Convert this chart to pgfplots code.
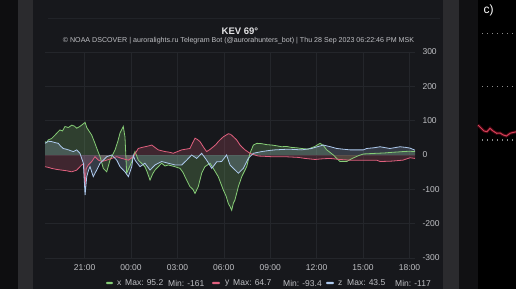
\documentclass[border=0pt]{standalone}
\usepackage{pgfplots}
\pgfplotsset{compat=1.18}
\usepackage{pgfplotstable}
\usepackage{fontspec}
\setmainfont{Liberation Sans}
\definecolor{outerbg}{HTML}{0E0E10}
\definecolor{greybar}{HTML}{2B2B2E}
\definecolor{panelbg}{HTML}{17181C}
\definecolor{darkstrip}{HTML}{111113}
\definecolor{gridc}{HTML}{24262B}
\definecolor{ticktext}{HTML}{BFC0C4}
\definecolor{titletext}{HTML}{E2E2E4}
\definecolor{cx}{HTML}{86CC76}
\definecolor{cy}{HTML}{E0607E}
\definecolor{cz}{HTML}{AECAEE}
\definecolor{redline}{HTML}{C8102E}

\pgfplotstableread{
h v
-5.56 39
-5.45 36
-5.35 44
-5.13 48
-4.91 58
-4.75 66
-4.59 73
-4.43 70
-4.27 83
-4.05 80
-3.83 87
-3.65 84
-3.51 78
-3.35 82
-3.19 87
-3.08 91
-2.97 95
-2.86 80
-2.76 73
-2.54 58
-2.33 34
-2.15 12
-2.00 -5
-1.79 -39
-1.57 -49
-1.45 -30
-1.36 -15
-1.03 15
-0.85 40
-0.71 64
-0.50 83
-0.39 53
-0.28 -53
-0.10 -35
0.05 -20
0.26 10
0.47 -15
0.70 -25
0.90 -34
1.05 -50
1.23 -73
1.40 -55
1.55 -44
1.98 -24
2.20 -32
2.41 -29
2.84 -34
3.17 -39
3.35 -50
3.49 -63
3.81 -92
4.00 -100
4.14 -112
4.35 -92
4.57 -53
4.78 -34
5.11 -24
5.32 -39
5.64 -63
5.97 -102
6.15 -120
6.29 -141
6.40 -150
6.51 -161
6.62 -140
6.72 -131
6.94 -92
7.16 -63
7.48 -34
7.69 5
7.91 29
8.13 34
8.45 33
8.80 30
9.10 29
9.40 27
9.74 24
10.05 25
10.39 22
10.70 21
11.03 19
11.44 17
11.89 25
12.22 34
12.43 28
12.65 15
12.86 8
13.08 0
13.30 -10
13.51 -19
13.94 -19
14.35 -9
14.70 -2
15.02 3
15.45 4
15.88 5
16.40 6
16.94 8
17.30 9
17.58 10
18.00 11
18.36 10
}\xdata

\pgfplotstableread{
h v
-5.56 -34
-5.35 -36
-5.13 -39
-4.80 -42
-4.48 -44
-4.15 -46
-3.83 -49
-3.51 -44
-3.19 -29
-3.05 -26
-2.97 -93
-2.90 -40
-2.76 -29
-2.54 -19
-2.33 -5
-2.11 -15
-1.89 -19
-1.57 -15
-1.25 -10
-0.92 -5
-0.60 -10
-0.17 -15
0.15 -5
0.47 19
0.70 22
0.90 24
1.10 26
1.34 29
1.55 22
1.76 15
2.20 10
2.50 8
2.73 5
3.00 10
3.28 15
3.55 17
3.81 19
3.98 35
4.14 49
4.30 45
4.46 39
4.70 22
4.89 10
5.10 16
5.32 24
5.50 31
5.64 39
5.80 46
5.97 53
6.15 58
6.29 62
6.45 60
6.62 53
6.83 44
7.05 29
7.20 22
7.37 15
7.69 5
8.00 0
8.23 -3
8.70 -4
9.10 -5
9.50 -5
9.95 -5
10.40 -6
10.82 -7
11.25 -10
11.89 -13
12.40 -11
12.86 -10
13.50 -13
14.16 -15
15.00 -15
15.88 -15
16.10 -19
16.80 -18
17.58 -15
18.04 -8
18.36 -10
}\ydata

\pgfplotstableread{
h v
-5.56 34
-5.35 40
-5.13 39
-4.90 36
-4.70 34
-4.55 26
-4.38 19
-4.20 17
-4.05 15
-3.73 10
-3.51 15
-3.30 5
-3.08 -24
-2.97 -117
-2.86 -63
-2.75 -45
-2.65 -34
-2.44 -63
-2.22 -44
-2.00 -24
-1.79 -15
-1.57 -5
-1.25 0
-0.92 -15
-0.71 -34
-0.39 -49
-0.17 -63
0.05 -34
0.15 0
0.26 -15
0.58 -34
0.90 -24
1.23 -44
1.55 -29
1.98 -19
2.41 -24
2.84 -29
3.28 -29
3.60 -15
3.92 0
4.25 -10
4.57 5
4.89 -15
5.22 -39
5.54 -20
5.86 -19
6.18 0
6.40 -29
6.62 -39
6.94 -53
7.26 -39
7.58 -10
7.91 5
8.45 10
8.90 13
9.31 15
9.75 16
10.17 17
10.60 16
11.03 15
11.68 19
11.89 22
12.43 29
12.90 24
13.30 19
13.70 17
14.16 15
15.02 15
15.24 19
15.70 21
16.10 24
16.74 19
17.39 24
17.80 22
18.04 20
18.36 14
}\zdata

\pgfplotstableread{
x y
0.0 164
3.0 161
6.0 158
9.0 157.3
12.0 160.7
15.0 158
18.7 155.7
22.0 156
25.3 154
28.5 153
32.0 155.7
35.0 156.5
38.7 157.3
}\rdata

\begin{document}
\begin{tikzpicture}[x=1pt,y=1pt]
\useasboundingbox (0,0) rectangle (516,289);
\clip (0,0) rectangle (516,289);
\fill[outerbg] (0,0) rectangle (516,289);
\fill[greybar] (18,0) rectangle (33,289);
\fill[panelbg] (33,0) rectangle (443,289);
\fill[greybar] (443,0) rectangle (459,289);
\fill[darkstrip] (459,0) rectangle (478,289);
\fill[black] (478,0) rectangle (516,289);
\draw[gridc!80!panelbg, line width=0.6pt] (48,271) -- (440,271);

\node[text=titletext, font=\fontsize{9.5}{11}\selectfont\bfseries] at (240,258) {KEV 69°};
\node[text=ticktext, font=\fontsize{7.1}{8}\selectfont] at (238.5,248.5) {© NOAA DSCOVER | auroralights.ru Telegram Bot (@aurorahunters\_bot) | Thu 28 Sep 2023 06:22:46 PM MSK};

\begin{axis}[
  at={(45pt,31pt)}, anchor=south west,
  scale only axis, width=370pt, height=206pt,
  xmin=-5.56, xmax=18.36, ymin=-300, ymax=300,
  axis line style={draw=none},
  grid=major, major grid style={gridc, line width=0.6pt},
  major tick length=0pt,
  xtick={-3,0,3,6,9,12,15,18},
  xticklabels={21:00,00:00,03:00,06:00,09:00,12:00,15:00,18:00},
  ytick={-300,-200,-100,0,100,200,300},
  yticklabels={-300,-200,-100,0,100,200,300},
  yticklabel pos=right,
  ticklabel style={text=ticktext, font=\fontsize{8.5}{10}\selectfont},
  xticklabel style={anchor=north, yshift=-3pt},
  yticklabel style={anchor=west, xshift=4pt},
  clip=false,
]
\addplot[draw=none, fill=cx, fill opacity=0.22] table[x=h,y=v]{\xdata} \closedcycle;
\addplot[draw=none, fill=cy, fill opacity=0.20] table[x=h,y=v]{\ydata} \closedcycle;
\addplot[draw=none, fill=cz, fill opacity=0.20] table[x=h,y=v]{\zdata} \closedcycle;
\addplot[cx, line width=0.8pt] table[x=h,y=v]{\xdata};
\addplot[cy, line width=0.8pt] table[x=h,y=v]{\ydata};
\addplot[cz, line width=0.8pt] table[x=h,y=v]{\zdata};
\end{axis}

\begin{axis}[
  at={(478pt,0pt)}, anchor=south west,
  scale only axis, width=38pt, height=289pt,
  xmin=0, xmax=38, ymin=0, ymax=289, hide axis, clip=false,
]
\addplot[redline, opacity=0.35, line width=3pt] table[x=x,y=y]{\rdata};
\addplot[redline!80!white, line width=1pt] table[x=x,y=y]{\rdata};
\end{axis}

\foreach \yy in {255.7,202.3,149} {
  \draw[gray!90, line width=1.2pt, dash pattern=on 1pt off 4pt] (482,\yy) -- (516,\yy);
}
\node[text=white, font=\fontsize{12}{14}\selectfont, anchor=base west] at (480,275) {c)};

% legend
\fill[cx, rounded corners=1pt] (106,4.8) rectangle (113,7.2);
\node[text=ticktext, font=\fontsize{8.5}{10}\selectfont, anchor=west, inner sep=0pt] at (117,6) {x};
\node[text=ticktext, font=\fontsize{8.5}{10}\selectfont, anchor=west, inner sep=0pt] at (125,6) {Max: 95.2};
\node[text=ticktext, font=\fontsize{8.5}{10}\selectfont, anchor=west, inner sep=0pt] at (168,6) {Min: -161};
\fill[cy, rounded corners=1pt] (212,4.8) rectangle (220,7.2);
\node[text=ticktext, font=\fontsize{8.5}{10}\selectfont, anchor=west, inner sep=0pt] at (225,6) {y};
\node[text=ticktext, font=\fontsize{8.5}{10}\selectfont, anchor=west, inner sep=0pt] at (233,6) {Max: 64.7};
\node[text=ticktext, font=\fontsize{8.5}{10}\selectfont, anchor=west, inner sep=0pt] at (283,6) {Min: -93.4};
\fill[cz, rounded corners=1pt] (326,4.8) rectangle (334,7.2);
\node[text=ticktext, font=\fontsize{8.5}{10}\selectfont, anchor=west, inner sep=0pt] at (338,6) {z};
\node[text=ticktext, font=\fontsize{8.5}{10}\selectfont, anchor=west, inner sep=0pt] at (347,6) {Max: 43.5};
\node[text=ticktext, font=\fontsize{8.5}{10}\selectfont, anchor=west, inner sep=0pt] at (395,6) {Min: -117};
\end{tikzpicture}
\end{document}
